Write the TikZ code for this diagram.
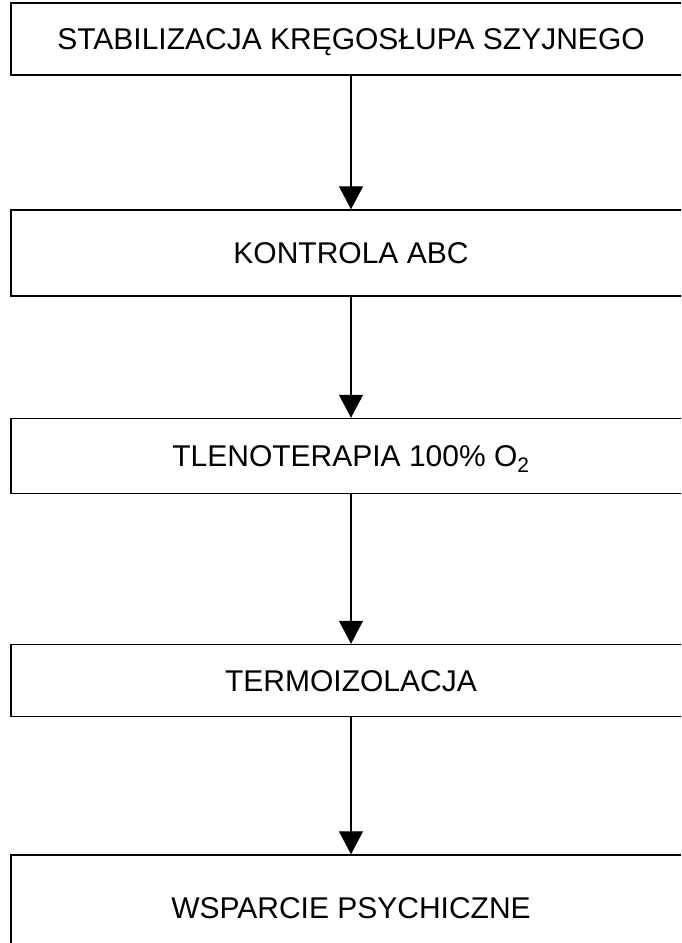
\documentclass[tikz,border=0pt]{standalone}
\usepackage{fontspec}
\setmainfont{Liberation Sans}
\usetikzlibrary{arrows.meta}
\begin{document}
\begin{tikzpicture}[x=1pt,y=1pt,
  stepbox/.style={draw=black, line width=1.4pt, minimum width=680pt, inner sep=0pt,
    text height=21.5pt, text depth=0pt, font=\fontsize{30}{36}\selectfont},
  flow/.style={draw=black, line width=1.1pt, -{Triangle[width=24pt,length=23pt]}}]
\useasboundingbox (0,0) rectangle (681,943);
\clip (0,0) rectangle (681,943);
\fill[white] (0,0) rectangle (681,943);
\node[stepbox, minimum height=72pt] (b1) at (351,904) {STABILIZACJA KRĘGOSŁUPA SZYJNEGO};
\node[stepbox, minimum height=86pt] (b2) at (351,690) {KONTROLA ABC};
\node[stepbox, minimum height=75pt] (b3) at (351,487) {TLENOTERAPIA 100\% O\textsubscript{2}};
\node[stepbox, minimum height=72pt] (b4) at (351,262.5) {TERMOIZOLACJA};
\node[stepbox, minimum height=106pt] (b5) at (351,35) {WSPARCIE PSYCHICZNE};
\draw[flow] (b1.south) -- (b2.north);
\draw[flow] (b2.south) -- (b3.north);
\draw[flow] (b3.south) -- (b4.north);
\draw[flow] (b4.south) -- (b5.north);
\end{tikzpicture}
\end{document}
